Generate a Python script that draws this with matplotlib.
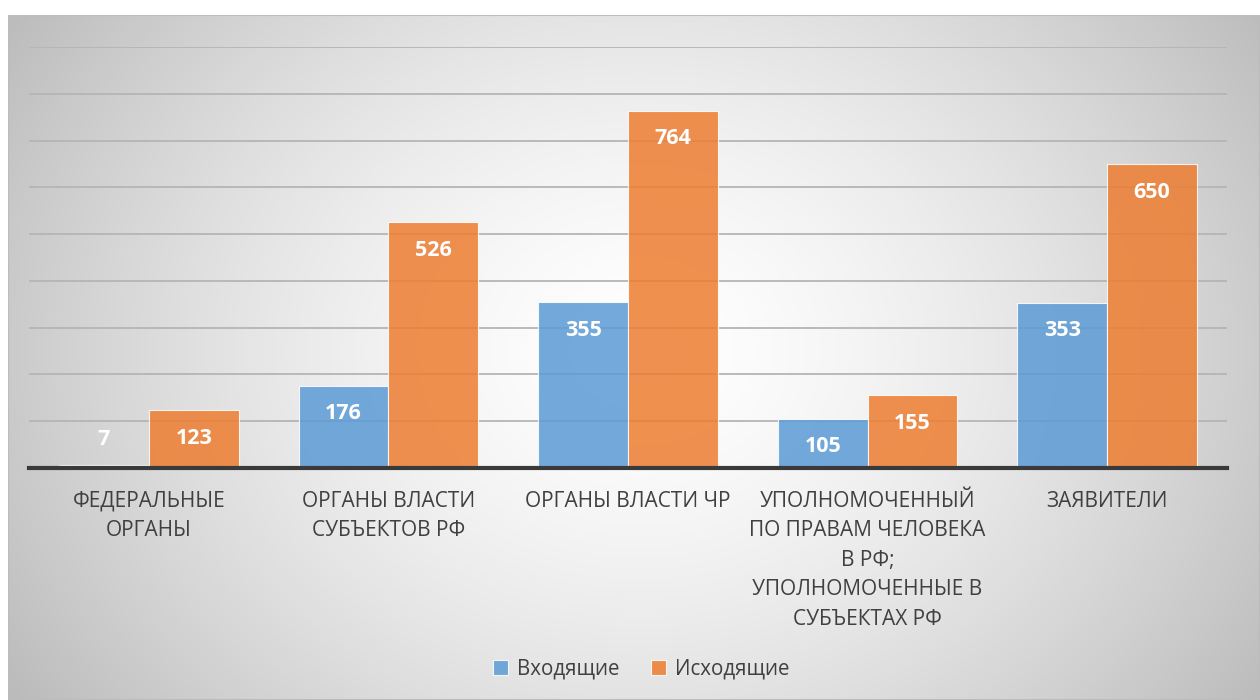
import numpy as np
import matplotlib as mpl
import matplotlib.pyplot as plt
from matplotlib.patches import Rectangle

mpl.rcParams['font.family'] = ['Open Sans', 'DejaVu Sans']

# Data
categories = ["ФЕДЕРАЛЬНЫЕ\nОРГАНЫ",
              "ОРГАНЫ ВЛАСТИ\nСУБЪЕКТОВ РФ",
              "ОРГАНЫ ВЛАСТИ ЧР",
              "УПОЛНОМОЧЕННЫЙ\nПО ПРАВАМ ЧЕЛОВЕКА\nВ РФ;\nУПОЛНОМОЧЕННЫЕ В\nСУБЪЕКТАХ РФ",
              "ЗАЯВИТЕЛИ"]
incoming = [7, 176, 355, 105, 353]
outgoing = [123, 526, 764, 155, 650]
series_names = ["Входящие", "Исходящие"]

blue = "#5B9BD5"
orange = "#ED7D31"

W, H = 1260, 700
fig = plt.figure(figsize=(12.6, 7), dpi=100)

# Radial gradient background of the chart area
bg = fig.add_axes([8/W, 0, 1 - 8/W, 1 - 15/H])
yy, xx = np.mgrid[0:685, 0:1252]
d = np.sqrt(((xx - 632) / 720.0)**2 + ((yy - 335) / 600.0)**2)
shade = 1.0 - 0.25 * np.clip(d, 0, 1.05)**1.5
bg.imshow(np.dstack([shade]*3), aspect="auto", extent=[0, 1, 0, 1],
          origin="upper", interpolation="bilinear")
bg.set_axis_off()
bg.add_patch(Rectangle((0, 0), 1, 1, transform=bg.transAxes, fill=False,
                       ec="#bcbcbc", lw=1.5))

ax = fig.add_axes([29/W, 1 - 468/H, 1198/W, 421/H])
ax.patch.set_alpha(0)

x = np.arange(len(categories))
w = 0.375
ax.bar(x - w/2, incoming, w, color=blue, alpha=0.85, ec="white", lw=0.8,
       label=series_names[0], zorder=3)
ax.bar(x + w/2, outgoing, w, color=orange, alpha=0.85, ec="white", lw=0.8,
       label=series_names[1], zorder=3)

# Value labels inside the bar ends
for xs, vals in [(x - w/2, incoming), (x + w/2, outgoing)]:
    for xi, v in zip(xs, vals):
        ly = v - 60 if v - 60 > 30 else 60
        ax.text(xi, ly, str(v), ha="center", va="center", color="white",
                fontsize=15.5, fontweight="bold", zorder=5)

ax.set_xlim(-0.5, 4.5)
ax.set_ylim(0, 900)
ax.set_yticks(np.arange(100, 901, 100))
ax.yaxis.grid(True, color="#b5b5b5", lw=1.3, zorder=1)
ax.tick_params(axis="y", left=False, labelleft=False)
ax.tick_params(axis="x", bottom=False, pad=13)
for s in ["top", "right", "left"]:
    ax.spines[s].set_visible(False)
ax.spines["bottom"].set_color("#3a3a3a")
ax.spines["bottom"].set_linewidth(3)
ax.spines["bottom"].set_zorder(6)

ax.set_xticks(x)
ax.set_xticklabels(categories, fontsize=15, color="#404040",
                   linespacing=1.53, va="top")

leg = ax.legend(loc="center", bbox_to_anchor=(641/W, 1 - 669/H),
                bbox_transform=fig.transFigure, ncol=2, frameon=False,
                fontsize=14.8, handlelength=0.75, handleheight=0.75,
                columnspacing=1.55, handletextpad=0.4)
for t in leg.get_texts():
    t.set_color("#404040")

fig.savefig("out.png", dpi=100)
